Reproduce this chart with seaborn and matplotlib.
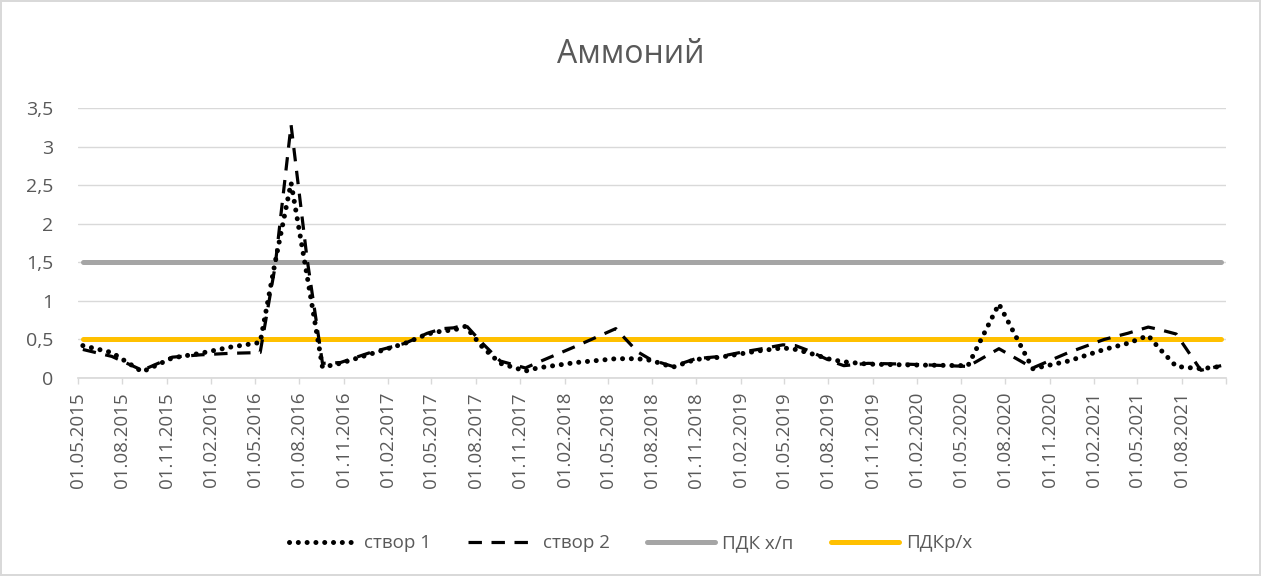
import pandas as pd
import numpy as np
import matplotlib
matplotlib.use('Agg')
import matplotlib.pyplot as plt
import matplotlib.ticker as mticker
import seaborn as sns

# sampling dates and values
dates = ['2015-05-11', '2015-07-10', '2015-09-11', '2015-11-12', '2016-01-09', '2016-03-11',
         '2016-05-12', '2016-06-12', '2016-07-15', '2016-08-17', '2016-09-18', '2016-10-25',
         '2016-12-26', '2017-03-08', '2017-04-23', '2017-05-24', '2017-06-16', '2017-07-11',
         '2017-08-15', '2017-09-21', '2017-11-12', '2017-12-07', '2018-02-24', '2018-05-18',
         '2018-07-02', '2018-07-29', '2018-09-13', '2018-10-30', '2018-12-21', '2019-02-07',
         '2019-03-08', '2019-04-29', '2019-05-25', '2019-06-19', '2019-08-06', '2019-09-02',
         '2019-10-22', '2020-01-08', '2020-05-16', '2020-07-19', '2020-09-27', '2020-12-10',
         '2021-02-22', '2021-04-12', '2021-05-24', '2021-06-15', '2021-07-21', '2021-09-10',
         '2021-10-22']
stvor1 = [0.42, 0.33, 0.08, 0.26, 0.32, 0.40, 0.46, 1.50, 2.53, 1.33, 0.14, 0.19,
          0.31, 0.45, 0.57, 0.61, 0.62, 0.67, 0.40, 0.19, 0.09, 0.13, 0.20, 0.25,
          0.25, 0.23, 0.14, 0.24, 0.27, 0.32, 0.35, 0.39, 0.37, 0.33, 0.24, 0.21,
          0.18, 0.17, 0.16, 0.96, 0.12, 0.22, 0.37, 0.45, 0.55, 0.39, 0.15, 0.12,
          0.15]
stvor2 = [0.37, 0.28, 0.10, 0.27, 0.30, 0.32, 0.33, 1.45, 3.28, 1.55, 0.19, 0.20,
          0.33, 0.45, 0.58, 0.64, 0.65, 0.69, 0.45, 0.22, 0.13, 0.20, 0.41, 0.64,
          0.34, 0.24, 0.15, 0.25, 0.28, 0.34, 0.37, 0.43, 0.42, 0.36, 0.22, 0.16,
          0.19, 0.18, 0.15, 0.38, 0.13, 0.33, 0.50, 0.58, 0.66, 0.63, 0.57, 0.10,
          0.16]
pdk_xp = 1.5
pdk_rx = 0.5

df = pd.DataFrame({'date': pd.to_datetime(dates), 'створ 1': stvor1, 'створ 2': stvor2})
df['ПДК х/п'] = pdk_xp
df['ПДКр/х'] = pdk_rx

sns.set_theme(style='white')
plt.rcParams['font.family'] = ['Open Sans', 'DejaVu Sans']
txt = '#595959'
grid = '#D9D9D9'

fig = plt.figure(figsize=(12.61, 5.76), dpi=100)
fig.patch.set_edgecolor(grid)
fig.patch.set_linewidth(1.5)
ax = fig.add_axes([78 / 1261, 1 - 378 / 576, (1226 - 78) / 1261, 270 / 576])

# reference levels first so the measured series sit on top
sns.lineplot(data=df, x='date', y='ПДК х/п', ax=ax, color='#A5A5A5', lw=3.6,
             solid_capstyle='round', label='ПДК х/п')
sns.lineplot(data=df, x='date', y='ПДКр/х', ax=ax, color='#FFC000', lw=3.6,
             solid_capstyle='round', label='ПДКр/х')
sns.lineplot(data=df, x='date', y='створ 1', ax=ax, color='black', lw=3.6,
             linestyle=(0, (0.01, 1.75)), dash_capstyle='round', label='створ 1')
sns.lineplot(data=df, x='date', y='створ 2', ax=ax, color='black', lw=2.3,
             linestyle=(0, (4.2, 3)), label='створ 2')

ax.set_ylim(0, 3.5)
ax.set_yticks(np.arange(0, 3.51, 0.5))
ax.yaxis.set_major_formatter(mticker.FuncFormatter(lambda v, p: f'{v:g}'.replace('.', ',')))
ax.grid(axis='y', color=grid, lw=1)
ax.set_axisbelow(True)

ticks = pd.date_range('2015-05-01', '2021-11-01', freq='3MS')
ax.set_xlim(ticks[0], ticks[-1])
ax.set_xticks(ticks)
ax.set_xticklabels([t.strftime('%d.%m.%Y') for t in ticks[:-1]] + [''], rotation=90)

for s in ['top', 'right', 'left']:
    ax.spines[s].set_visible(False)
ax.spines['bottom'].set_color(grid)
ax.tick_params(axis='x', bottom=True, length=4, color=grid, width=1, labelsize=13.5,
               labelcolor=txt, pad=6)
ax.tick_params(axis='y', left=False, labelsize=14, labelcolor=txt, pad=12)
ax.set_xlabel('')
ax.set_ylabel('')

fig.text(0.5, 0.905, 'Аммоний', ha='center', va='center', fontsize=23, color=txt)

ax.get_legend().remove()
h, l = ax.get_legend_handles_labels()
order = [2, 3, 0, 1]
fig.legend([h[i] for i in order], [l[i] for i in order], loc='center', ncol=4,
           bbox_to_anchor=(0.5, 0.057), frameon=False, fontsize=13.5, labelcolor=txt,
           handlelength=3.6, handletextpad=0.4, columnspacing=2.0)

fig.savefig('out.png', dpi=100)
